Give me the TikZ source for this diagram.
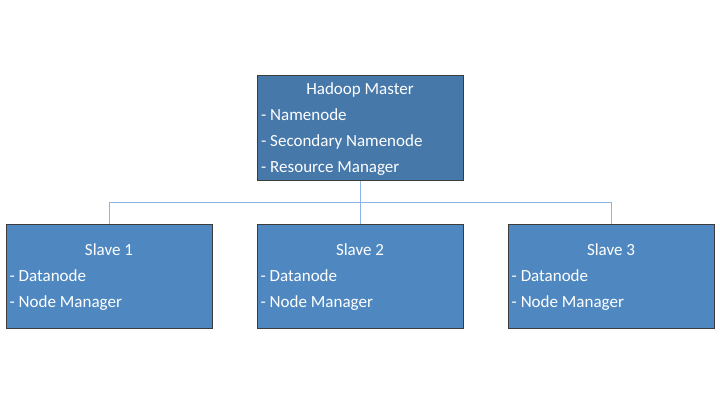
\documentclass[tikz,border=0pt]{standalone}
\usepackage{fontspec}
\setmainfont{Carlito}
\usepackage{tikz}

\definecolor{masterblue}{RGB}{70,120,170}
\definecolor{slaveblue}{RGB}{79,136,193}
\definecolor{boxline}{RGB}{60,60,60}
\definecolor{linkblue}{RGB}{141,180,226}

\begin{document}
\begin{tikzpicture}[x=1pt,y=1pt,
    box/.style={draw=boxline,line width=1pt,minimum width=206pt,minimum height=104pt,inner sep=0pt},
    txt/.style={text=white,font=\fontsize{17}{20}\selectfont,inner sep=0pt,text height=1.5ex,text depth=.3ex},
    link/.style={draw=linkblue,line width=1pt}]
      \useasboundingbox (0,0) rectangle (720,405);
      % master box
      \node[box,fill=masterblue] (master) at (360,277) {};
      \node[txt] (mtitle) at (360,313) {Hadoop Master};
      \foreach \t [count=\k] in {Namenode,Secondary Namenode,Resource Manager} {
        \pgfmathtruncatemacro\ypos{313-26*\k}
        \node[txt,anchor=west] (mline\k) at (261,\ypos) {- \t};
      }
      \coordinate (bus) at ([yshift=-22pt]master.south);
      \draw[link] (master.south) -- (bus);
      % slaves
      \foreach \i/\x in {1/109,2/360,3/611} {
        \node[box,fill=slaveblue] (slave\i) at (\x,129) {};
        \node[txt] (stitle\i) at (\x,152) {Slave \i};
        \node[txt,anchor=west] (sdata\i) at ([xshift=4pt]slave\i.west |- 0,126) {- Datanode};
        \node[txt,anchor=west] (snm\i) at ([xshift=4pt]slave\i.west |- 0,100) {- Node Manager};
        \draw[link] (bus) -| (slave\i.north);
      }
    \end{tikzpicture}
\end{document}
